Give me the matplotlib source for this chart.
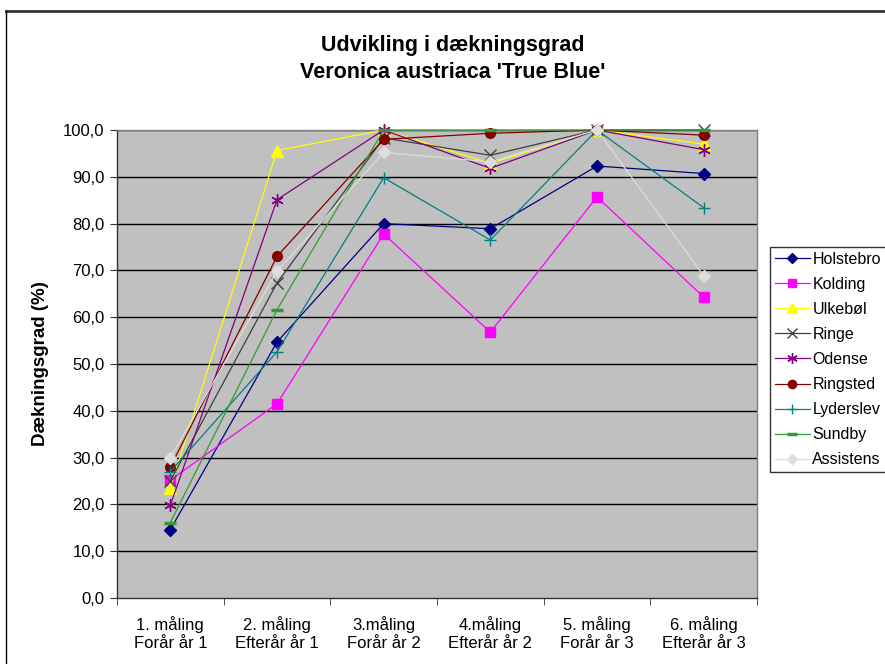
import matplotlib
matplotlib.use("Agg")
import matplotlib.pyplot as plt
from matplotlib.lines import Line2D

plt.rcParams['font.family'] = ['Liberation Sans', 'DejaVu Sans']

# categories (x axis)
categories = ["1. måling\nForår år 1", "2. måling\nEfterår år 1",
              "3.måling\nForår år 2", "4.måling\nEfterår år 2",
              "5. måling\nForår år 3", "6. måling\nEfterår år 3"]

# series values
holstebro = [14.6, 54.7, 80.0, 78.9, 92.3, 90.7]
kolding = [25.2, 41.5, 77.8, 56.8, 85.7, 64.3]
ulkebol = [23.5, 95.6, 100.0, 92.9, 100.0, 97.0]
ringe = [25.0, 67.3, 98.3, 94.6, 100.0, 100.0]
odense = [19.8, 85.1, 100.0, 91.8, 100.0, 95.8]
ringsted = [28.0, 73.0, 98.0, 99.3, 100.0, 98.9]
lyderslev = [27.0, 52.6, 89.8, 76.5, 100.0, 83.4]
sundby = [16.1, 61.6, 100.0, 100.0, 100.0, 100.0]
assistens = [30.0, 69.8, 95.2, 93.2, 100.0, 68.9]

yticks = [0, 10, 20, 30, 40, 50, 60, 70, 80, 90, 100]

series = [
    ("Holstebro", holstebro, "#000080", "D", 6, dict()),
    ("Kolding", kolding, "#FF00FF", "s", 7, dict()),
    ("Ulkebøl", ulkebol, "#FFFF00", "^", 8, dict()),
    ("Ringe", ringe, "#404040", "x", 8, dict(mew=1.0)),
    ("Odense", odense, "#800080", (6, 2, 0), 9, dict(mew=1.0)),
    ("Ringsted", ringsted, "#800000", "o", 7, dict()),
    ("Lyderslev", lyderslev, "#008080", "+", 9, dict(mew=1.0)),
    ("Sundby", sundby, "#339933", "_", 9, dict(mew=2.5)),
    ("Assistens", assistens, "#DDDDDD", "D", 6, dict()),
]

W, H = 885, 664
fig = plt.figure(figsize=(W / 100, H / 100), dpi=100)
left, right, top, bottom = 117, 757, 130, 598
ax = fig.add_axes([left / W, 1 - bottom / H, (right - left) / W, (bottom - top) / H])
ax.set_facecolor("#C0C0C0")

x = list(range(1, len(categories) + 1))
for name, vals, col, mk, ms, extra in series:
    ax.plot(x, vals, color=col, lw=0.9, marker=mk, ms=ms, mfc=col, mec=col,
            label=name, clip_on=False, zorder=3, **extra)

ax.set_xlim(0.5, len(categories) + 0.5)
ax.set_ylim(0, 100)
ax.set_yticks(yticks)
ax.set_yticklabels([f"{v:.1f}".replace(".", ",") for v in yticks], fontsize=12)
for v in yticks[1:]:
    ax.axhline(v, color="black", lw=1.0, zorder=1)

ax.set_xticks(x)
ax.set_xticklabels(categories, fontsize=12, linespacing=1.25)
ax.set_xticks([i + 0.5 for i in range(len(categories) + 1)], minor=True)
ax.tick_params(axis="x", which="major", length=0, pad=13)
ax.tick_params(axis="x", which="minor", length=5, direction="out", color="#333333")
ax.tick_params(axis="y", length=5, direction="out", color="#333333", pad=4)

for s in ["top", "right"]:
    ax.spines[s].set_color("#808080")
    ax.spines[s].set_linewidth(1.0)
for s in ["left", "bottom"]:
    ax.spines[s].set_color("#333333")
    ax.spines[s].set_linewidth(1.0)

ax.set_ylabel("Dækningsgrad (%)", fontsize=13.5, fontweight="bold", labelpad=10)
fig.text(453 / W, 1 - 46 / H, "Udvikling i dækningsgrad",
         ha="center", va="center", fontsize=15.5, fontweight="bold")
fig.text(453 / W, 1 - 73 / H, "Veronica austriaca 'True Blue'",
         ha="center", va="center", fontsize=15.5, fontweight="bold")

leg = ax.legend(loc="upper left", bbox_to_anchor=(770 / W, 1 - 247 / H),
                bbox_transform=fig.transFigure, fontsize=11.5, frameon=True,
                fancybox=False, borderpad=0.3, labelspacing=0.63,
                handlelength=2.2, handletextpad=0.15, borderaxespad=0,
                markerscale=0.85)
leg.get_frame().set_edgecolor("black")
leg.get_frame().set_linewidth(1.0)

# chart area border
fig.add_artist(Line2D([6 / W, 1], [1 - 11 / H, 1 - 11 / H], transform=fig.transFigure,
                      color="#333333", lw=2.0))
fig.add_artist(Line2D([6 / W, 6 / W], [0, 1 - 11 / H], transform=fig.transFigure,
                      color="black", lw=1.0))

fig.savefig("out.png", dpi=100)
